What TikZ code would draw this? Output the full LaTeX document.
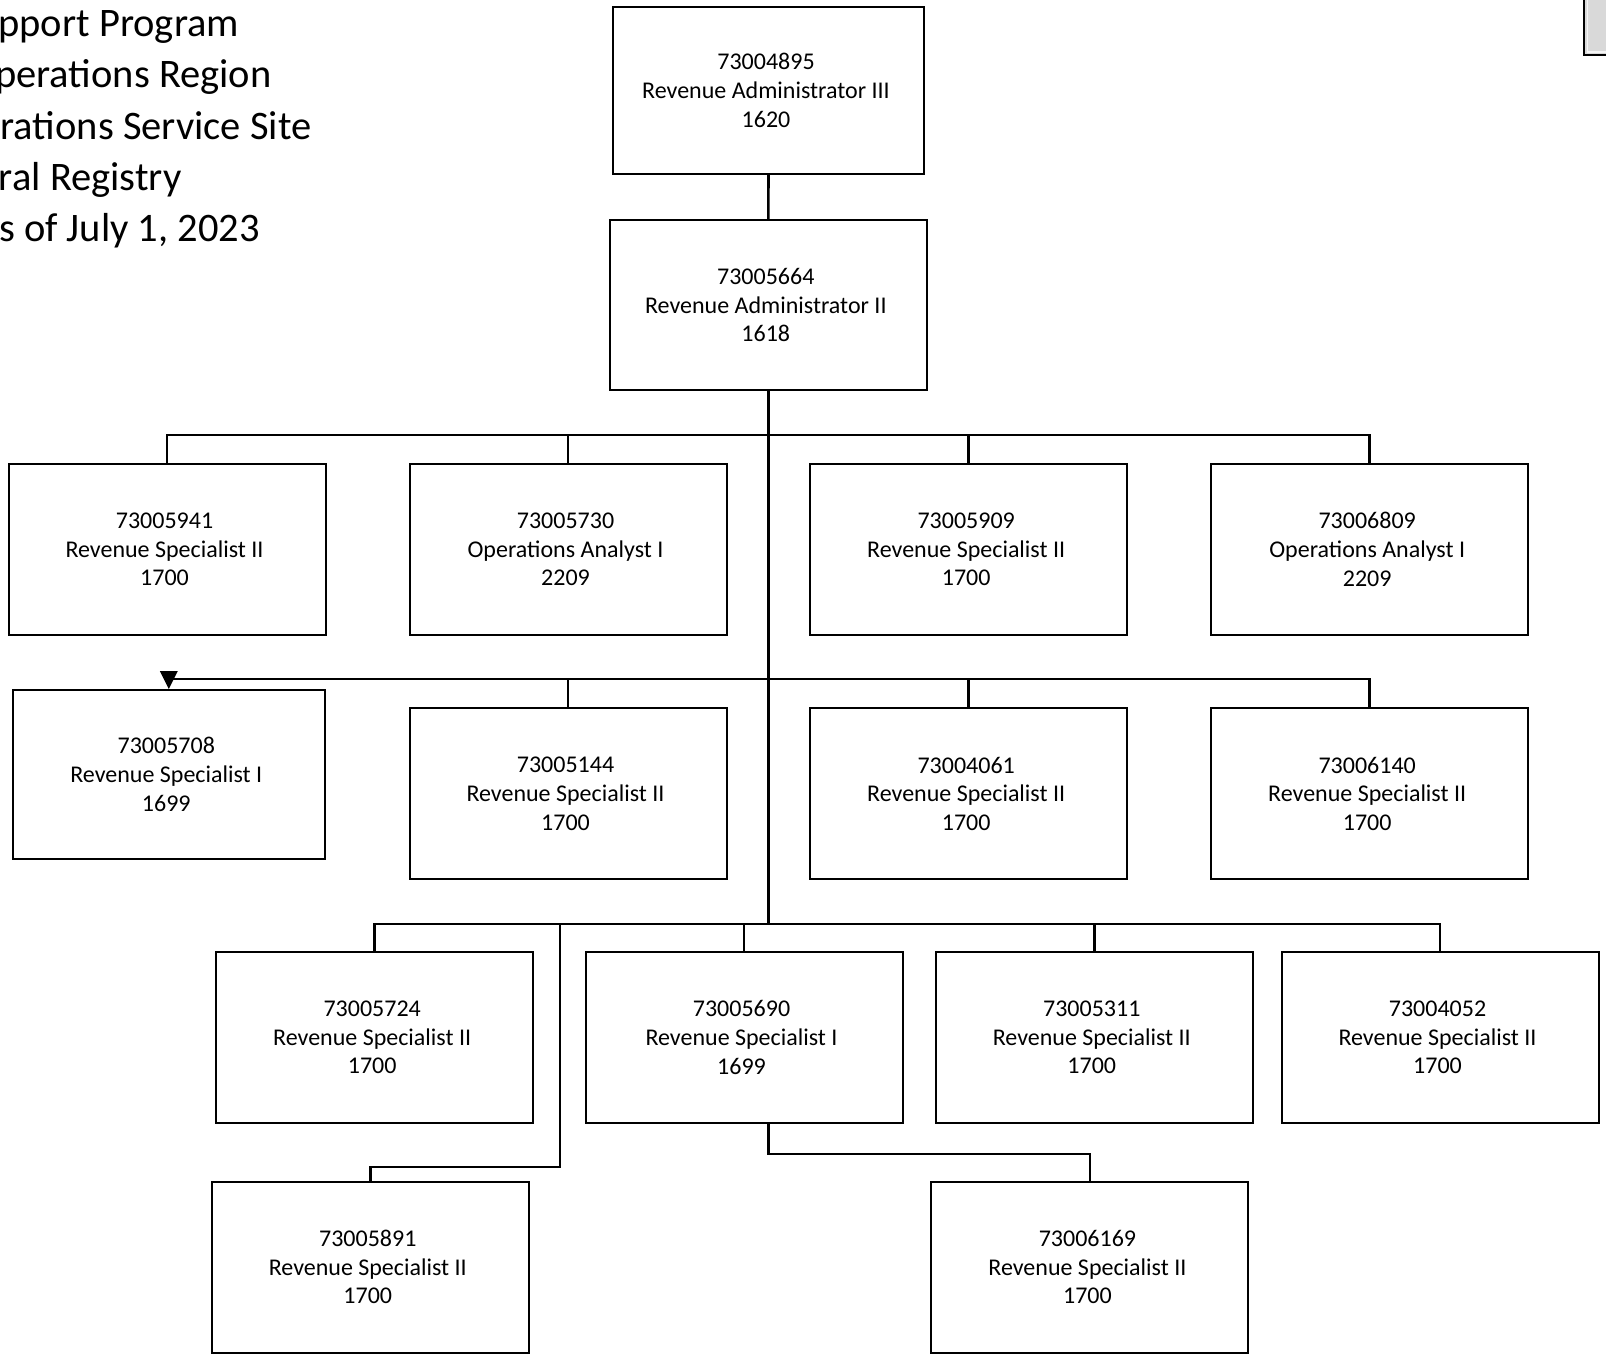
\documentclass[tikz,border=0pt]{standalone}
\usepackage{fontspec}
\setmainfont{Carlito}
% three centred lines, each padded on the right so the block sits a little left
\newcommand\postlines[3]{#1\rule{5pt}{0pt}\\#2\rule{5pt}{0pt}\\#3\rule{5pt}{0pt}}
\begin{document}
\begin{tikzpicture}[x=1pt,y=-1pt,
  post/.style={draw=black, line width=2pt, fill=white, align=center, inner sep=0pt,
    minimum width=317pt, minimum height=171pt,
    font=\fontsize{24}{28.7}\selectfont},
  link/.style={draw=black, line width=2.6pt, line join=miter},
  heading/.style={anchor=base east, inner sep=0pt,
    font=\fontsize{40.5}{48}\selectfont}]

% page frame
\useasboundingbox (0,0) rectangle (1606,1356);
\fill[white] (0,0) rectangle (1606,1356);
\clip (0,0) rectangle (1606,1356);

% heading block at the top left
\node[heading] (h1) at (239.3,36.7)  {Support Program};
\node[heading] (h2) at (271.7,87.9)  {Operations Region};
\node[heading] (h3) at (311.7,139.1) {Operations Service Site};
\node[heading] (h4) at (181.7,190.3) {Central Registry};
\node[heading] (h5) at (260.0,241.5) {As of July 1, 2023};

% grey tab in the top right corner
\fill[gray!30] (1584,-5) rectangle (1620,55);
\draw[white!92!gray, line width=1.2pt] (1587.5,-5) -- (1587.5,52) -- (1620,52);
\draw[black, line width=2pt] (1584,-5) -- (1584,55) -- (1620,55);

% positions
\node[post, minimum width=311.6pt, minimum height=167.3pt] (top) at (768.5,90.3)
  {\postlines{73004895}{Revenue Administrator III}{1620}};
\node[post, minimum width=316.7pt, minimum height=170pt] (adm) at (768.3,305)
  {\postlines{73005664}{Revenue Administrator II}{1618}};

\node[post] (r1a) at (167.0,549.5)  {\postlines{73005941}{Revenue Specialist II}{1700}};
\node[post] (r1b) at (568.0,549.5)  {\postlines{73005730}{Operations Analyst I}{2209}};
\node[post] (r1c) at (968.7,549.5)  {\postlines{73005909}{Revenue Specialist II}{1700}};
\node[post] (r1d) at (1369.7,549.5) {\postlines{73006809}{Operations Analyst I}{2209}};

\node[post, minimum width=312.3pt, minimum height=169pt] (r2a) at (168.8,774.5)
  {\postlines{73005708}{Revenue Specialist I}{1699}};
\node[post] (r2b) at (568.0,793.7)  {\postlines{73005144}{Revenue Specialist II}{1700}};
\node[post] (r2c) at (968.7,793.7)  {\postlines{73004061}{Revenue Specialist II}{1700}};
\node[post] (r2d) at (1369.7,793.7) {\postlines{73006140}{Revenue Specialist II}{1700}};

\node[post] (r3a) at (374.7,1037.5)  {\postlines{73005724}{Revenue Specialist II}{1700}};
\node[post] (r3b) at (744.0,1037.5)  {\postlines{73005690}{Revenue Specialist I}{1699}};
\node[post] (r3c) at (1094.3,1037.5) {\postlines{73005311}{Revenue Specialist II}{1700}};
\node[post] (r3d) at (1440.0,1037.5) {\postlines{73004052}{Revenue Specialist II}{1700}};

\node[post] (r4a) at (370.3,1267) {\postlines{73005891}{Revenue Specialist II}{1700}};
\node[post] (r4b) at (1089.9,1267) {\postlines{73006169}{Revenue Specialist II}{1700}};

% bus levels
\coordinate (bus1) at (768.3,435);
\coordinate (bus2) at (768.3,679);
\coordinate (bus3) at (768.3,924);
\coordinate (side) at (560,924);
\coordinate (sideknee) at (560,1167);
\coordinate (subknee) at (768.3,1154);

% reporting lines
\draw[link] (top.south) -- (adm.north);
\draw[link, line width=3pt] (adm.south) -- (bus3);

\draw[link] (r1a.north) -- (r1a.north |- bus1) -- (r1d.north |- bus1) -- (r1d.north);
\draw[link] (r1b.north |- bus1) -- (r1b.north);
\draw[link] (r1c.north |- bus1) -- (r1c.north);

\draw[link] (r2a.north |- bus2) -- (r2d.north |- bus2) -- (r2d.north);
\draw[link] (r2b.north |- bus2) -- (r2b.north);
\draw[link] (r2c.north |- bus2) -- (r2c.north);
\fill[black] (r2a.north) -- ++(-9,-18) -- ++(18,0) -- cycle;

\draw[link] (r3a.north) -- (r3a.north |- bus3) -- (r3d.north |- bus3) -- (r3d.north);
\draw[link] (r3b.north |- bus3) -- (r3b.north);
\draw[link] (r3c.north |- bus3) -- (r3c.north);

\draw[link] (side) -- (sideknee) -- (sideknee -| r4a.north) -- (r4a.north);
\draw[link] (r3b.south -| subknee) -- (subknee) -- (subknee -| r4b.north) -- (r4b.north);
\end{tikzpicture}
\end{document}
